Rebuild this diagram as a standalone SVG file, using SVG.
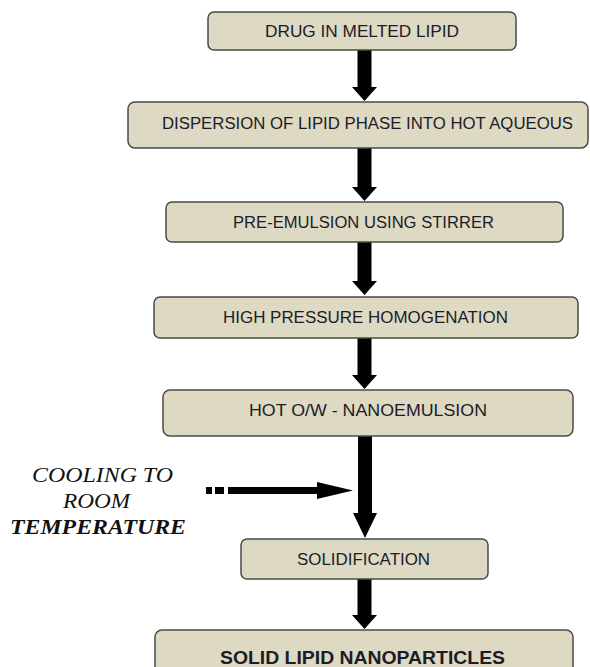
<svg xmlns="http://www.w3.org/2000/svg" width="590" height="667" viewBox="0 0 590 667">
<style>
.box{fill:#ddd9c3;stroke:#4a4a4a;stroke-width:1.5}
.t{font-family:"Liberation Sans",Arial,sans-serif;font-size:16px;fill:#1c1c28;text-anchor:middle}
.b{font-weight:bold;font-size:18px}
.s{font-family:"Liberation Serif","Times New Roman",serif;font-style:italic;font-size:21px;fill:#111;text-anchor:middle}
.arr{fill:#000}
</style>
<rect width="590" height="667" fill="#fff"/>
<g id="connectors">
<polygon class="arr" points="357.5,50 371.5,50 371.5,87 377,87 364.5,101 352,87 357.5,87"/>
<polygon class="arr" points="357.5,148 371.5,148 371.5,187 377,187 364.5,201 352,187 357.5,187"/>
<polygon class="arr" points="357.5,242 371.5,242 371.5,281 377,281 364.5,295 352,281 357.5,281"/>
<polygon class="arr" points="357.5,338 371.5,338 371.5,375 377,375 364.5,389 352,375 357.5,375"/>
<polygon class="arr" points="358,436 372,436 372,513 377,513 365,538 353,513 358,513"/>
<polygon class="arr" points="357.5,579 371.5,579 371.5,615 377,615 364.5,629 352,615 357.5,615"/>
<rect class="arr" x="206" y="487" width="6" height="7"/>
<rect class="arr" x="215" y="487" width="9" height="7"/>
<polygon class="arr" points="228,487 317,487 317,482 353,490.5 317,499 317,494 228,494"/>
</g>
<g id="n1"><rect class="box" x="208" y="12" width="308" height="38" rx="6"/><text class="t" x="362" y="37" textLength="194" lengthAdjust="spacingAndGlyphs">DRUG IN MELTED LIPID</text></g>
<g id="n2"><rect class="box" x="128" y="102" width="460" height="46" rx="7"/><text class="t" x="367.5" y="129" textLength="411" lengthAdjust="spacingAndGlyphs">DISPERSION OF LIPID PHASE INTO HOT AQUEOUS</text></g>
<g id="n3"><rect class="box" x="166" y="202" width="397" height="40" rx="6"/><text class="t" x="363.5" y="228" textLength="261" lengthAdjust="spacingAndGlyphs">PRE-EMULSION USING STIRRER</text></g>
<g id="n4"><rect class="box" x="154" y="297" width="424" height="41" rx="6"/><text class="t" x="365.5" y="323" textLength="285" lengthAdjust="spacingAndGlyphs">HIGH PRESSURE HOMOGENATION</text></g>
<g id="n5"><rect class="box" x="163" y="390" width="410" height="46" rx="7"/><text class="t" x="368" y="416" textLength="238" lengthAdjust="spacingAndGlyphs">HOT O/W - NANOEMULSION</text></g>
<g id="n6"><rect class="box" x="241" y="539" width="247" height="40" rx="6"/><text class="t" x="363.5" y="565" textLength="133" lengthAdjust="spacingAndGlyphs">SOLIDIFICATION</text></g>
<g id="n7"><rect class="box" x="155" y="630" width="418" height="50" rx="7"/><text class="t b" x="362.5" y="664" textLength="285" lengthAdjust="spacingAndGlyphs">SOLID LIPID NANOPARTICLES</text></g>
<g id="label">
<text class="s" x="102.5" y="482" textLength="141" lengthAdjust="spacingAndGlyphs">COOLING TO</text>
<text class="s" x="96.5" y="508" textLength="67" lengthAdjust="spacingAndGlyphs">ROOM</text>
<text class="s" x="98" y="534" font-weight="bold" textLength="176" lengthAdjust="spacingAndGlyphs">TEMPERATURE</text>
</g>
</svg>
